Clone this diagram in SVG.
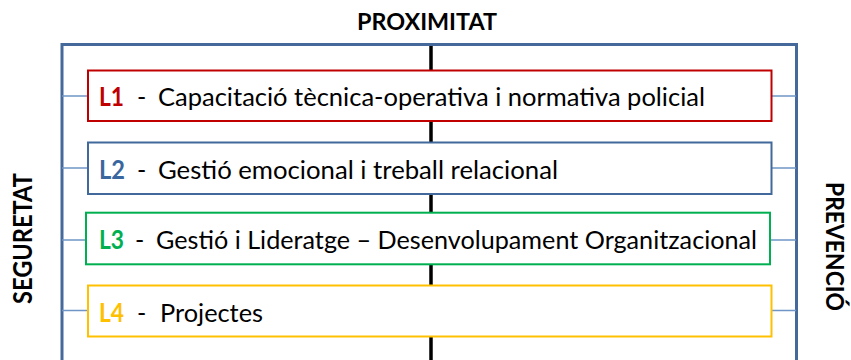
<svg xmlns="http://www.w3.org/2000/svg" width="851" height="360" viewBox="0 0 851 360">
<style>
.frame{fill:none;stroke:#45699B;stroke-width:3}
.tick{stroke:#6E95C6;stroke-width:1.5;fill:none}
.axis{stroke:#000;stroke-width:3.5}
.box{fill:#fff;stroke-width:2}
.lab{font-family:Lato,"Liberation Sans",sans-serif;font-weight:bold;font-size:26px}
.txt{font-family:Lato,"Liberation Sans",sans-serif;font-size:25px;fill:#000}
.hdr{font-family:Lato,"Liberation Sans",sans-serif;font-weight:bold;font-size:23px;fill:#000}
</style>
<rect width="851" height="360" fill="#fff"/>
<g id="frame">
<path class="frame" d="M62,362 V44.5 H796.5 V362"/>
</g>
<g id="connectors">
<line class="axis" x1="431" y1="46" x2="431" y2="360"/>
<line class="tick" x1="62" y1="96" x2="88" y2="96"/>
<line class="tick" x1="771" y1="96" x2="796" y2="96"/>
<line class="tick" x1="62" y1="168" x2="88" y2="168"/>
<line class="tick" x1="771" y1="168" x2="796" y2="168"/>
<line class="tick" x1="62" y1="240" x2="86" y2="240"/>
<line class="tick" x1="769" y1="240" x2="796" y2="240"/>
<line class="tick" x1="62" y1="310.5" x2="88" y2="310.5"/>
<line class="tick" x1="771" y1="310.5" x2="796" y2="310.5"/>
</g>
<g id="title-proximitat">
<text class="hdr" x="357" y="29.5" textLength="140" lengthAdjust="spacingAndGlyphs">PROXIMITAT</text>
</g>
<g id="title-seguretat">
<text class="hdr" transform="translate(32,304) rotate(-90)" x="0" y="0" textLength="131" lengthAdjust="spacingAndGlyphs" style="font-size:26px">SEGURETAT</text>
</g>
<g id="title-prevencio">
<text class="hdr" transform="translate(826,182) rotate(90)" x="0" y="0" textLength="129" lengthAdjust="spacingAndGlyphs" style="font-size:25px">PREVENCIÓ</text>
</g>
<g id="L1">
<rect class="box" x="88" y="70.5" width="683.5" height="50.5" stroke="#C00000"/>
<text class="lab" x="99" y="105.7" fill="#C00000" textLength="25" lengthAdjust="spacingAndGlyphs">L1</text>
<text class="txt" x="137" y="105.7">-</text>
<text class="txt" x="158" y="105.7" textLength="547" lengthAdjust="spacingAndGlyphs">Capacitació tècnica-operativa i normativa policial</text>
</g>
<g id="L2">
<rect class="box" x="88" y="142.5" width="683.5" height="51.5" stroke="#41699C"/>
<text class="lab" x="99" y="178.5" fill="#3A66A0" textLength="26" lengthAdjust="spacingAndGlyphs">L2</text>
<text class="txt" x="137" y="178.5">-</text>
<text class="txt" x="158" y="178.5" textLength="400" lengthAdjust="spacingAndGlyphs">Gestió emocional i treball relacional</text>
</g>
<g id="L3">
<rect class="box" x="86" y="212.7" width="684" height="51.6" stroke="#00B050"/>
<text class="lab" x="99" y="249" fill="#00B050" textLength="25" lengthAdjust="spacingAndGlyphs">L3</text>
<text class="txt" x="135" y="249">-</text>
<text class="txt" x="156" y="249" textLength="601" lengthAdjust="spacingAndGlyphs">Gestió i Lideratge – Desenvolupament Organitzacional</text>
</g>
<g id="L4">
<rect class="box" x="88" y="285.5" width="683.5" height="51" stroke="#FFC000"/>
<text class="lab" x="99" y="321.5" fill="#FFC000" textLength="25" lengthAdjust="spacingAndGlyphs">L4</text>
<text class="txt" x="137" y="321.5">-</text>
<text class="txt" x="160" y="321.5" textLength="103" lengthAdjust="spacingAndGlyphs">Projectes</text>
</g>
</svg>
